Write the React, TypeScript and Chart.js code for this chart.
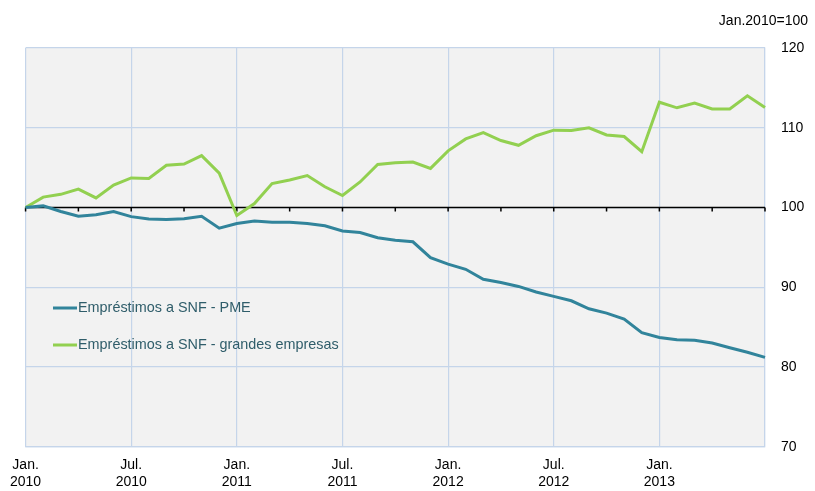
import React, { useEffect, useRef } from "react";
import { Chart, registerables } from "chart.js";

Chart.register(...registerables);

const monthNames = ["Jan.", "Fev.", "Mar.", "Abr.", "Mai.", "Jun.", "Jul.", "Ago.", "Set.", "Out.", "Nov.", "Dez."];
const years = [2010, 2011, 2012, 2013];
const categories: string[][] = [];
years.forEach((y) => monthNames.forEach((m) => categories.push([m, String(y)])));
categories.length = 43; // Jan. 2010 .. Jul. 2013

const pme = [100, 100.2, 99.5, 98.9, 99.1, 99.5, 98.85, 98.55, 98.5, 98.6, 98.9, 97.4, 98.0, 98.3, 98.15,
  98.15, 98.0, 97.7, 97.05, 96.85, 96.2, 95.9, 95.7, 93.7, 92.9, 92.25, 91.0, 90.6, 90.1, 89.4,
  88.85, 88.3, 87.3, 86.75, 86.0, 84.3, 83.7, 83.4, 83.35, 83.0, 82.4, 81.85, 81.2];
const grandes = [100, 101.3, 101.65, 102.3, 101.2, 102.8, 103.7, 103.65, 105.3, 105.45, 106.5, 104.3, 99.0, 100.5, 103.0,
  103.45, 104.0, 102.6, 101.5, 103.2, 105.4, 105.6, 105.7, 104.9, 107.1, 108.6, 109.4, 108.4, 107.8,
  109.0, 109.7, 109.65, 110.0, 109.1, 108.9, 107.0, 113.2, 112.5, 113.1, 112.35, 112.35, 114.0, 112.55];
const seriesNames = ["Empréstimos a SNF - PME", "Empréstimos a SNF - grandes empresas"];
const seriesColors = ["#31849b", "#92d050"];
const yTicks = [70, 80, 90, 100, 110, 120];
const unitLabel = "Jan.2010=100";

const FONT = "'Liberation Sans', Arial, sans-serif";
const GRID = "#c5d5ea";

const decor = {
  id: "decor",
  beforeDraw(chart: any) {
    const { ctx, chartArea: a } = chart;
    ctx.save();
    ctx.fillStyle = "#f2f2f2";
    ctx.fillRect(a.left, a.top, a.right - a.left, a.bottom - a.top);
    ctx.restore();
  },
  beforeDatasetsDraw(chart: any) {
    const { ctx, chartArea: a, scales } = chart;
    const y = scales.y.getPixelForValue(100);
    ctx.save();
    ctx.strokeStyle = "#000";
    ctx.lineWidth = 1.5;
    ctx.beginPath();
    ctx.moveTo(a.left, y);
    ctx.lineTo(a.right, y);
    for (let i = 0; i < categories.length; i += 3) {
      const x = scales.x.getPixelForValue(i);
      ctx.moveTo(x, y);
      ctx.lineTo(x, y + 4);
    }
    ctx.stroke();
    ctx.restore();
  },
  afterDraw(chart: any) {
    const { ctx } = chart;
    ctx.save();
    ctx.font = `14.4px ${FONT}`;
    ctx.textBaseline = "middle";
    const rows = [308, 345];
    seriesNames.forEach((name, i) => {
      ctx.strokeStyle = seriesColors[i];
      ctx.lineWidth = 3;
      ctx.beginPath();
      ctx.moveTo(53, rows[i]);
      ctx.lineTo(77, rows[i]);
      ctx.stroke();
      ctx.fillStyle = "#2f5d6a";
      ctx.textAlign = "left";
      ctx.fillText(name, 78, rows[i]);
    });
    ctx.font = `14px ${FONT}`;
    ctx.fillStyle = "#000";
    ctx.textAlign = "right";
    ctx.fillText(unitLabel, 808, 21);
    ctx.restore();
  },
};

export default function App() {
  const ref = useRef<HTMLCanvasElement>(null);
  useEffect(() => {
    if (!ref.current) return;
    const chart = new Chart(ref.current, {
      type: "line",
      data: {
        labels: categories,
        datasets: [
          { label: seriesNames[0], data: pme, borderColor: seriesColors[0], borderWidth: 3, pointRadius: 0, tension: 0 },
          { label: seriesNames[1], data: grandes, borderColor: seriesColors[1], borderWidth: 3, pointRadius: 0, tension: 0 },
        ],
      },
      options: {
        responsive: false,
        animation: false,
        layout: { padding: { left: 25.5, top: 48, right: 0, bottom: 0 } },
        plugins: { legend: { display: false }, tooltip: { enabled: false } },
        scales: {
          x: {
            offset: false,
            afterFit: (s: any) => { s.height = 44.3; },
            grid: {
              drawTicks: false,
              color: (c: any) => (c.index % 6 === 0 ? GRID : "transparent"),
              lineWidth: 1.2,
            },
            border: { color: GRID, width: 1.2 },
            ticks: {
              autoSkip: false,
              maxRotation: 0,
              padding: 10,
              color: "#000",
              font: { family: FONT, size: 14 },
              callback: (_v: any, i: number) => (i % 6 === 0 && i < 42 ? categories[i] : ""),
            },
          },
          y: {
            position: "right",
            min: yTicks[0],
            max: yTicks[yTicks.length - 1],
            afterFit: (s: any) => { s.width = 50; },
            afterBuildTicks: (s: any) => { s.ticks = yTicks.map((v) => ({ value: v })); },
            grid: { drawTicks: false, color: GRID, lineWidth: 1.2 },
            border: { color: GRID, width: 1.2 },
            ticks: {
              padding: 16,
              color: "#000",
              font: { family: FONT, size: 14 },
            },
          },
        },
      },
      plugins: [decor],
    });
    return () => chart.destroy();
  }, []);
  return (
    <div style={{ position: "absolute", left: 0, top: 0, width: 815, height: 491, background: "#fff" }}>
      <canvas ref={ref} width={815} height={491} />
    </div>
  );
}
